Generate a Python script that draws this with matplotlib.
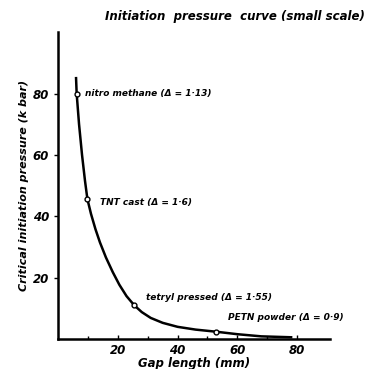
import matplotlib
matplotlib.use("Agg")
import matplotlib.pyplot as plt

# curve (gap length mm, pressure kbar)
curveX = [6.0, 6.2, 7.0, 8.0, 9.0, 9.8, 11, 12.5, 14, 16, 18.3, 20.5, 22.9, 25.5, 28, 31, 35, 40, 46, 53, 60, 68, 78]
curveY = [85, 80, 70, 60, 51.5, 45.6, 40.8, 35.8, 31.5, 26.6, 21.8, 17.7, 14.0, 11.0, 8.8, 6.9, 5.3, 4.0, 3.1, 2.4, 1.6, 0.9, 0.6]

# measured explosives
names = ["nitro methane (\u0394 = 1\u00b713)", "TNT cast (\u0394 = 1\u00b76)",
         "tetryl pressed (\u0394 = 1\u00b755)", "PETN powder (\u0394 = 0\u00b79)"]
gapX = [6.2, 9.8, 25.5, 53]
pressY = [80, 45.6, 11.0, 2.4]
labelX = [9, 14, 29.5, 57]
labelY = [80, 44.5, 13.5, 7]

yTicks = [20, 40, 60, 80]
xTicks = [20, 40, 60, 80]

fontStyle = dict(fontweight="bold", fontstyle="italic", family="DejaVu Sans")

fig = plt.figure(figsize=(3.85, 3.69), dpi=100)
ax = fig.add_axes([0.151, 0.081, 0.706, 0.832])
ax.plot(curveX, curveY, color="black", lw=1.8)
ax.plot(gapX, pressY, "o", ms=3.5, mfc="white", mec="black", mew=1.0)
for i in range(len(names)):
    ax.text(labelX[i], labelY[i], names[i], fontsize=6.5, va="center", **fontStyle)

ax.set_xlim(0, 91)
ax.set_ylim(0, 100)
ax.spines["top"].set_visible(False)
ax.spines["right"].set_visible(False)
ax.spines["left"].set_linewidth(1.8)
ax.spines["bottom"].set_linewidth(1.8)
ax.set_yticks(yTicks)
ax.set_xticks(xTicks)
ax.set_xticks([10, 30, 50, 70], minor=True)
ax.tick_params(axis="y", direction="out", length=3, width=1)
ax.tick_params(axis="x", direction="in", length=3, width=1)
ax.tick_params(axis="x", which="minor", direction="in", length=2, width=1)
for lab in ax.get_xticklabels() + ax.get_yticklabels():
    lab.set_fontsize(8.5)
    lab.set_fontweight("bold")
    lab.set_fontstyle("italic")

ax.set_xlabel("Gap length (mm)", fontsize=8.5, labelpad=0, **fontStyle)
ax.set_ylabel("Critical initiation pressure (k bar)", fontsize=8, labelpad=3, **fontStyle)
fig.text(0.61, 0.955, "Initiation  pressure  curve (small scale)", fontsize=8.5,
         ha="center", va="center", **fontStyle)

plt.savefig("out.png", dpi=100)
